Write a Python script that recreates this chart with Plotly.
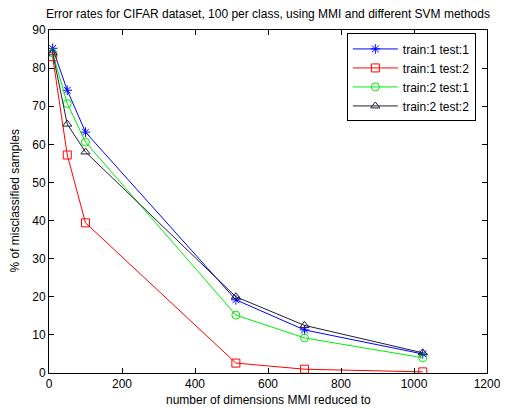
import plotly.graph_objects as go

dims = [10, 50, 100, 512, 700, 1024]
train1_test1 = [85.2, 74.2, 63.2, 19.2, 11.3, 5.0]
train1_test2 = [83.0, 57.2, 39.4, 2.6, 1.0, 0.3]
train2_test1 = [84.0, 70.7, 60.6, 15.2, 9.2, 4.0]
train2_test2 = [84.0, 65.3, 58.0, 20.0, 12.5, 5.3]

names = ["train:1 test:1", "train:1 test:2", "train:2 test:1", "train:2 test:2"]
colors = ["#0000ff", "#ff0000", "#00ee00", "#202035"]
symbols = ["asterisk-open", "square-open", "circle-open", "triangle-up-open"]
series = [train1_test1, train1_test2, train2_test1, train2_test2]

FONT = "Liberation Sans, Arial"

fig = go.Figure()
for n, c, s, y in zip(names, colors, symbols, series):
    fig.add_trace(go.Scatter(
        x=dims, y=y, name=n, mode="lines+markers",
        line=dict(color=c, width=1),
        marker=dict(symbol=s, size=8, color=c, line=dict(color=c, width=1)),
    ))

axis_common = dict(
    showgrid=False, zeroline=False, showline=True, linecolor="black", linewidth=1,
    mirror="ticks", ticks="inside", ticklen=5, tickcolor="black",
    tickfont=dict(family=FONT, size=12, color="black"), automargin=False,
)
fig.update_xaxes(range=[0, 1200], dtick=200, **axis_common)
fig.update_yaxes(range=[0, 90], dtick=10, **axis_common)

fig.add_annotation(text="number of dimensions MMI reduced to", xref="paper", yref="paper",
                   x=0.5, y=0, yshift=-27, xanchor="center", yanchor="middle",
                   showarrow=False, font=dict(family=FONT, size=12, color="black"))
fig.add_annotation(text="% of misclassified samples", xref="paper", yref="paper",
                   x=0, y=0.5, xshift=-35, xanchor="center", yanchor="middle", textangle=-90,
                   showarrow=False, font=dict(family=FONT, size=12, color="black"))

fig.update_layout(
    width=500, height=400,
    margin=dict(l=41, r=21, t=22, b=35),
    paper_bgcolor="white", plot_bgcolor="white",
    title=dict(text="Error rates for CIFAR dataset, 100 per class, using MMI and different SVM methods",
               x=0.5, xanchor="center", xref="paper", yref="container", y=0.985, yanchor="middle",
               pad=dict(t=0, b=0), font=dict(family=FONT, size=12, color="black")),
    legend=dict(x=0.68, y=0.99, xanchor="left", yanchor="top",
                bgcolor="white", bordercolor="black", borderwidth=1,
                font=dict(family=FONT, size=12, color="black"),
                tracegroupgap=0, itemwidth=45),
    showlegend=True,
)

fig.write_html("out.html")
